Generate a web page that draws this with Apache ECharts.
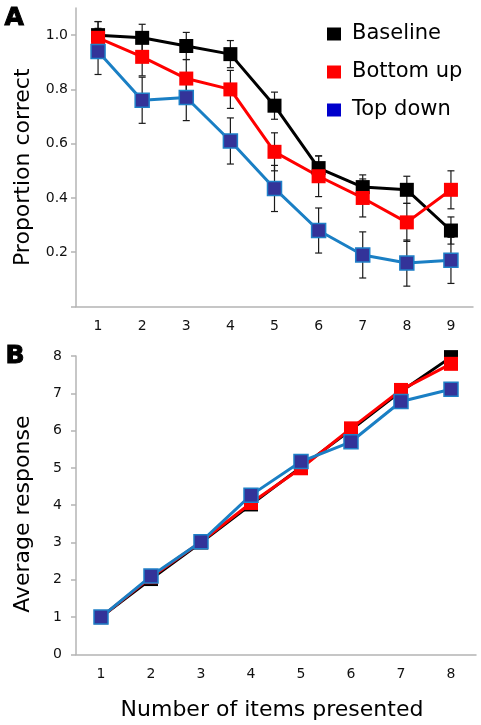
<!DOCTYPE html>
<html><head><meta charset="utf-8">
<script src="https://cdn.jsdelivr.net/npm/echarts@6/dist/echarts.min.js"></script>
<style>html,body{margin:0;padding:0;background:#fff}#c{width:481px;height:725px}</style>
</head><body><div id="c"></div>
<script>
// ---- data ----
const seriesNames = ['Baseline', 'Bottom up', 'Top down'];
const catsA = ['1','2','3','4','5','6','7','8','9'];
const catsB = ['1','2','3','4','5','6','7','8'];

const baselineA = [1.00, 0.99, 0.96, 0.93, 0.74, 0.51, 0.44, 0.43, 0.28];
const bottomUpA = [0.99, 0.92, 0.84, 0.80, 0.57, 0.48, 0.40, 0.31, 0.43];
const topDownA  = [0.94, 0.76, 0.77, 0.61, 0.435, 0.28, 0.19, 0.16, 0.17];

const baselineErr = [0.05, 0.05, 0.05, 0.05, 0.05, 0.045, 0.045, 0.05, 0.05];
const bottomUpErr = [0.06, 0.07, 0.07, 0.07, 0.07, 0.075, 0.07, 0.07, 0.07];
const topDownErr  = [0.085, 0.085, 0.085, 0.085, 0.085, 0.083, 0.085, 0.085, 0.085];

const baselineB = [1.00, 2.02, 3.00, 4.02, 5.02, 6.02, 7.05, 7.97];
const bottomUpB = [1.00, 2.07, 3.02, 4.06, 4.99, 6.06, 7.09, 7.79];
const topDownB  = [1.00, 2.10, 3.02, 4.27, 5.17, 5.70, 6.78, 7.11];

const yTicksA = [0, 0.2, 0.4, 0.6, 0.8, 1.0];
const yLabelsA = [0.2, 0.4, 0.6, 0.8, 1.0];

// ---- styles ----
const FONT = 'DejaVu Sans';
const axisGray = '#b4b4b4';
const colors = {
  'Baseline':  {fill:'#000000', border:'#000000', line:'#000000'},
  'Bottom up': {fill:'#ff0000', border:'#ff0000', line:'#ff0000'},
  'Top down':  {fill:'#333399', border:'#1f80c8', line:'#1a7fc4'}
};

function lineSeries(name, data, gi) {
  const c = colors[name];
  return {
    type: 'line', name: name, xAxisIndex: gi, yAxisIndex: gi, data: data,
    symbol: 'rect', symbolSize: 14, z: 3,
    lineStyle: {color: c.line, width: 3},
    itemStyle: {color: c.fill, borderColor: c.border, borderWidth: name === 'Top down' ? 1.5 : 0},
    emphasis: {disabled: true}
  };
}

function errSeries(name, vals, errs) {
  return {
    type: 'custom', name: name + ' err', xAxisIndex: 0, yAxisIndex: 0, z: 1, silent: true,
    data: vals.map((v, i) => [i, v - errs[i], v + errs[i]]),
    encode: {x: 0, y: [1, 2]},
    renderItem: function (params, api) {
      const x = api.value(0);
      const lo = api.coord([x, api.value(1)]);
      const hi = api.coord([x, api.value(2)]);
      const w = 3.5;
      const style = {stroke: '#1a1a1a', lineWidth: 1.2};
      return {type: 'group', children: [
        {type: 'line', shape: {x1: lo[0], y1: lo[1], x2: hi[0], y2: hi[1]}, style: style},
        {type: 'line', shape: {x1: lo[0] - w, y1: lo[1], x2: lo[0] + w, y2: lo[1]}, style: style},
        {type: 'line', shape: {x1: hi[0] - w, y1: hi[1], x2: hi[0] + w, y2: hi[1]}, style: style}
      ]};
    }
  };
}

const axisLineCommon = {lineStyle: {color: axisGray, width: 1.5}};
const tickCommon = {length: 5, lineStyle: {color: axisGray, width: 1.5}};
const labelCommon = {fontFamily: FONT, fontSize: 14, color: '#111'};

const chart = echarts.init(document.getElementById('c'), null, {renderer: 'canvas'});
chart.setOption({
  animation: false,
  backgroundColor: '#fff',
  grid: [
    {left: 76, width: 397, top: 8, height: 298.5},
    {left: 76, width: 400, top: 356, height: 298.4}
  ],
  legend: {
    orient: 'vertical', left: 322, top: 17, itemWidth: 14, itemHeight: 13, itemGap: 14,
    icon: 'rect', selectedMode: false,
    textStyle: {fontFamily: FONT, fontSize: 21, color: '#000', lineHeight: 24, padding: [0, 0, 0, 6]},
    data: [
      {name: 'Baseline', itemStyle: {color: '#000000', borderWidth: 0}},
      {name: 'Bottom up', itemStyle: {color: '#ff0000', borderWidth: 0}},
      {name: 'Top down', itemStyle: {color: '#0000cc', borderWidth: 0}}
    ]
  },
  xAxis: [
    {type: 'category', gridIndex: 0, data: catsA, boundaryGap: true,
     axisLine: axisLineCommon, axisTick: tickCommon,
     axisLabel: Object.assign({margin: 13}, labelCommon), splitLine: {show: false}},
    {type: 'category', gridIndex: 1, data: catsB, boundaryGap: true,
     axisLine: axisLineCommon, axisTick: tickCommon,
     axisLabel: Object.assign({margin: 13}, labelCommon), splitLine: {show: false},
     name: 'Number of items presented', nameLocation: 'middle', nameGap: 45,
     nameTextStyle: {fontFamily: FONT, fontSize: 22, color: '#000', padding: [0, 8, 0, 0]}}
  ],
  yAxis: [
    {type: 'value', gridIndex: 0, min: 0, max: 1.1, interval: 0.2,
     axisLine: Object.assign({show: true}, axisLineCommon),
     axisTick: Object.assign({show: true, customValues: yTicksA}, tickCommon),
     axisLabel: Object.assign({margin: 8, customValues: yLabelsA,
       formatter: v => v.toFixed(1)}, labelCommon),
     splitLine: {show: false},
     name: 'Proportion correct', nameLocation: 'middle', nameGap: 42,
     nameTextStyle: {fontFamily: FONT, fontSize: 22, color: '#000', padding: [0, 20, 0, 0]}},
    {type: 'value', gridIndex: 1, min: 0, max: 8, interval: 1,
     axisLine: Object.assign({show: true}, axisLineCommon),
     axisTick: Object.assign({show: true}, tickCommon),
     axisLabel: Object.assign({margin: 14}, labelCommon),
     splitLine: {show: false},
     name: 'Average response', nameLocation: 'middle', nameGap: 42,
     nameTextStyle: {fontFamily: FONT, fontSize: 22, color: '#000', padding: [0, 18, 0, 0]}}
  ],
  graphic: [
    {type: 'text', left: 4, top: 5, style: {text: 'A', font: 'bold 25px "DejaVu Sans"', fill: '#000', stroke: '#000', lineWidth: 1}},
    {type: 'text', left: 5, top: 343, style: {text: 'B', font: 'bold 25px "DejaVu Sans"', fill: '#000', stroke: '#000', lineWidth: 1}}
  ],
  series: [
    errSeries('Baseline', baselineA, baselineErr),
    errSeries('Bottom up', bottomUpA, bottomUpErr),
    errSeries('Top down', topDownA, topDownErr),
    lineSeries('Baseline', baselineA, 0),
    lineSeries('Bottom up', bottomUpA, 0),
    lineSeries('Top down', topDownA, 0),
    lineSeries('Baseline', baselineB, 1),
    lineSeries('Bottom up', bottomUpB, 1),
    lineSeries('Top down', topDownB, 1)
  ]
});
</script>
</body></html>
